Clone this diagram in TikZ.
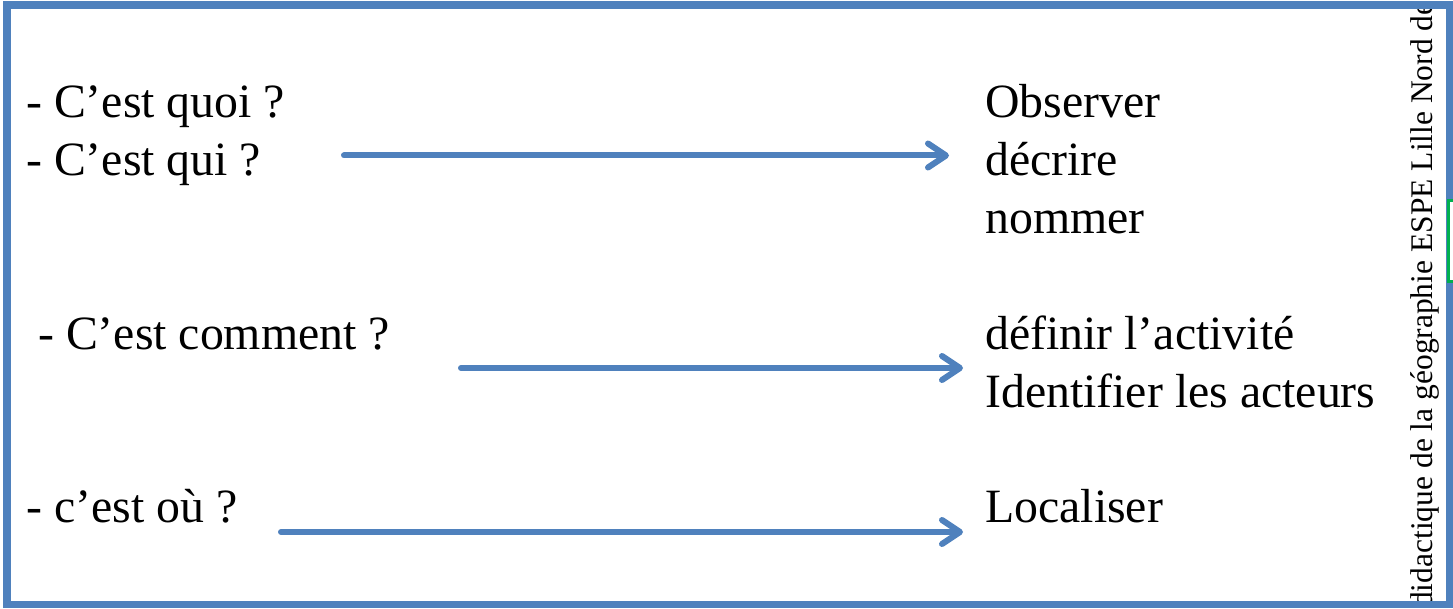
\documentclass[tikz,border=0pt]{standalone}
\usepackage{fontspec}
\setmainfont{Liberation Serif}
\usetikzlibrary{arrows.meta}
\definecolor{officeblue}{HTML}{4F81BD}
\definecolor{officegreen}{HTML}{00B050}
\begin{document}
\begin{tikzpicture}[x=1pt,y=-1pt,
  txt/.style={anchor=base west,inner sep=0pt,font=\fontsize{47.8}{58}\selectfont},
  vtxt/.style={anchor=base west,inner sep=0pt,rotate=90,font=\fontsize{31.5}{38}\selectfont},
  conn/.style={officeblue,line width=6pt,line cap=round,
    -{Straight Barb[length=18pt,width=24pt,round,line width=6pt]}}]
\useasboundingbox (0,0) rectangle (1453,609);
\fill[white] (0,0) rectangle (1453,609);
% vertical side text
\node[vtxt] (side) at (1432,608) {didactique de la géographie ESPE Lille Nord de};
% left column
\node[txt] (q1) at (26,118) {- C’est quoi ?};
\node[txt] (q2) at (26,176) {- C’est qui ?};
\node[txt] (q3) at (26,349) {\ - C’est comment ?};
\node[txt] (q4) at (26,522) {- c’est où ?};
% right column
\node[txt] (r1) at (985,118) {Observer};
\node[txt] (r2) at (985,176) {décrire};
\node[txt] (r3) at (985,234) {nommer};
\node[txt] (r4) at (985,349) {définir l’activité};
\node[txt] (r5) at (985,407) {Identifier les acteurs};
\node[txt] (r6) at (985,522) {Localiser};
% arrow ends
\coordinate (a1s) at (344,155.5);
\coordinate (a1e) at (949,155.5);
\coordinate (a2s) at (461,368);
\coordinate (a2e) at (963,368);
\coordinate (a3s) at (281,532);
\coordinate (a3e) at (963,532);
\draw[conn] (a1s) -- (a1e);
\draw[conn] (a2s) -- (a2e);
\draw[conn] (a3s) -- (a3e);
% frame
\draw[officeblue,line width=7.5pt] (7,5) rectangle (1449.5,604.5);
\draw[officegreen,line width=3pt,fill=white] (1448,201) rectangle (1462,282);
\end{tikzpicture}
\end{document}
